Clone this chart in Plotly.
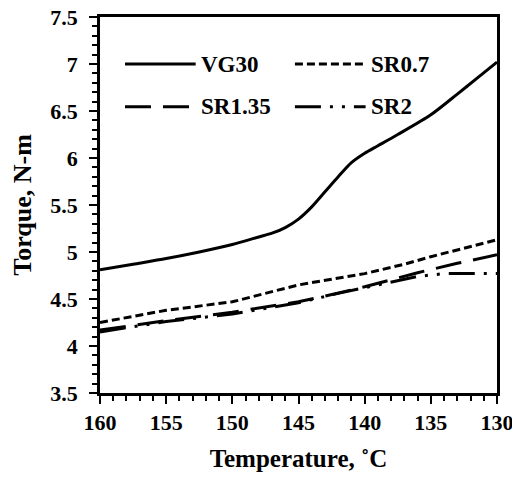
import plotly.graph_objects as go

# ---- data ----
vg30_t = [160, 157.5, 155, 152.5, 150, 148, 147, 146, 145, 144, 143, 142, 141, 140, 139, 137.5, 135, 133, 131.5, 130]
vg30_v = [4.81, 4.87, 4.93, 5.00, 5.08, 5.16, 5.20, 5.26, 5.35, 5.48, 5.64, 5.80, 5.95, 6.05, 6.13, 6.25, 6.46, 6.68, 6.85, 7.02]

sr07_t = [160, 155, 150, 148, 145, 140, 137, 135, 133, 130]
sr07_v = [4.25, 4.38, 4.47, 4.54, 4.65, 4.77, 4.87, 4.95, 5.02, 5.13]

sr135_t = [160, 155, 150, 145, 143, 140, 136, 133, 130]
sr135_v = [4.17, 4.27, 4.36, 4.47, 4.53, 4.63, 4.78, 4.88, 4.97]

sr2_t = [160, 155, 150, 145, 142, 138, 136, 134, 132.5, 130]
sr2_v = [4.15, 4.26, 4.34, 4.46, 4.56, 4.68, 4.74, 4.77, 4.77, 4.77]

series_names = ["VG30", "SR0.7", "SR1.35", "SR2"]
x_title = "Temperature, ˚C"
y_title = "Torque, N-m"

FONT = "Times New Roman, Liberation Serif, serif"
dashes = ["solid", "8px,4px", "26px,12px", "26px,9px,3px,9px,3px,9px"]
shapes_kind = ["spline", "linear", "linear", "linear"]
LW = 3

fig = go.Figure()
for name, t, v, d, sh in zip(series_names,
                             [vg30_t, sr07_t, sr135_t, sr2_t],
                             [vg30_v, sr07_v, sr135_v, sr2_v],
                             dashes, shapes_kind):
    line = dict(color="black", width=LW, dash=d, shape=sh)
    if sh == "spline":
        line["smoothing"] = 0.8
    fig.add_trace(go.Scatter(x=t, y=v, mode="lines", name=name, line=line, showlegend=False))

# manual legend (2 x 2), positioned in paper coordinates
leg_pos = [(0.063, 0.875), (0.491, 0.875), (0.063, 0.761), (0.491, 0.761)]
sample_len = 0.178
shapes = []
annotations = []
for name, d, (lx, ly) in zip(series_names, dashes, leg_pos):
    shapes.append(dict(type="line", xref="paper", yref="paper",
                       x0=lx, x1=lx + sample_len, y0=ly, y1=ly,
                       line=dict(color="black", width=LW, dash=d)))
    annotations.append(dict(xref="paper", yref="paper", x=lx + sample_len + 0.008, y=ly,
                            xanchor="left", yanchor="middle", showarrow=False,
                            text=name, font=dict(family=FONT, size=23, color="black", weight="bold")))

# page body has an 8px margin, so the figure is 8px smaller and margins shifted
fig.update_layout(
    width=512, height=469,
    margin=dict(l=92, r=23, t=9, b=84, autoexpand=False),
    paper_bgcolor="white", plot_bgcolor="white",
    font=dict(family=FONT, color="black"),
    shapes=shapes, annotations=annotations,
    showlegend=False,
)

axis_common = dict(
    showgrid=False, zeroline=False, automargin=False,
    showline=True, linecolor="black", linewidth=2.5, mirror=True,
    ticks="outside", ticklen=8, tickwidth=2, tickcolor="black",
    ticklabeloverflow="allow",
    tickfont=dict(family=FONT, size=22, color="black", weight="bold"),
)

fig.update_xaxes(
    range=[160, 130], dtick=5, tick0=130,
    minor=dict(ticks="outside", ticklen=5, tickwidth=2, tickcolor="black", dtick=1),
    title=dict(text=x_title, font=dict(family=FONT, size=25, color="black", weight="bold"), standoff=16),
    ticklabelstandoff=0,
    **axis_common,
)
fig.update_yaxes(
    range=[3.5, 7.5], dtick=0.5, tick0=3.5,
    minor=dict(ticks="outside", ticklen=5, tickwidth=2, tickcolor="black", dtick=0.1),
    title=dict(text=y_title, font=dict(family=FONT, size=26, color="black", weight="bold"), standoff=12),
    ticklabelstandoff=7,
    **axis_common,
)

fig.write_html("out.html")
